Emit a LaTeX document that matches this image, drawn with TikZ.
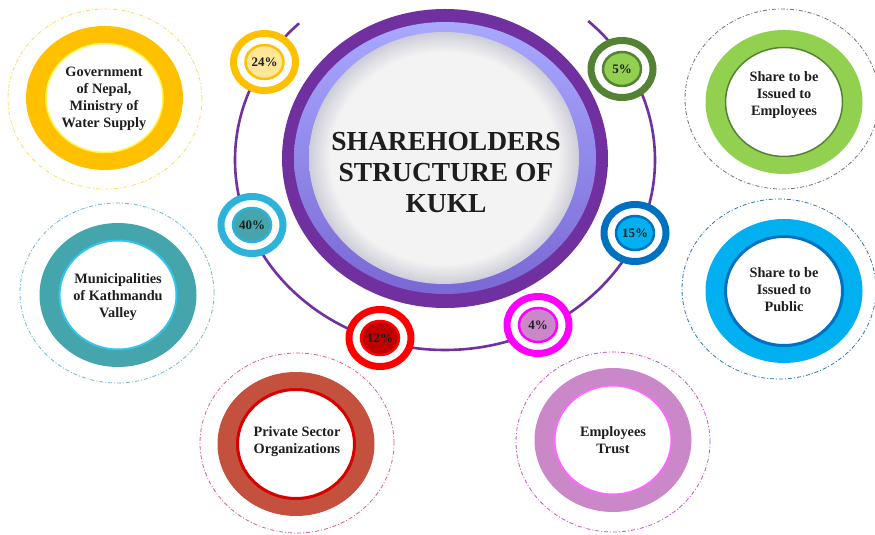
\documentclass[tikz,border=0pt]{standalone}
\usepackage{fontspec}
\setmainfont{Liberation Serif}
\definecolor{txt}{HTML}{1E1E1E}
\definecolor{purp}{HTML}{7030A0}
\definecolor{lavA}{HTML}{A8A8FF}
\definecolor{lavB}{HTML}{7A68D4}
\definecolor{greyA}{HTML}{F3F3F3}
\definecolor{greyB}{HTML}{CDCDD8}
\definecolor{gold}{HTML}{FFC000}
\definecolor{goldlt}{HTML}{FFE699}
\definecolor{goldln}{HTML}{FFD966}
\definecolor{teal}{HTML}{45A5AD}
\definecolor{cyanln}{HTML}{33C4EA}
\definecolor{skyring}{HTML}{2DB2DA}
\definecolor{brick}{HTML}{C4513E}
\definecolor{redA}{HTML}{FF0000}
\definecolor{redB}{HTML}{C00000}
\definecolor{pinkln}{HTML}{E0607A}
\definecolor{orchid}{HTML}{CA88C9}
\definecolor{magenta2}{HTML}{FF00FF}
\definecolor{magln}{HTML}{FF66FF}
\definecolor{magdash}{HTML}{C955C9}
\definecolor{lgreen}{HTML}{92D050}
\definecolor{dgreen}{HTML}{548235}
\definecolor{greydash}{HTML}{6F7A66}
\definecolor{sky}{HTML}{00B0F0}
\definecolor{dblue}{HTML}{0070C0}
\definecolor{bluedash}{HTML}{2E75B6}
\definecolor{lbluedash}{HTML}{6FB7D8}
\pgfdeclareradialshading{greyshade}{\pgfpoint{0bp}{0bp}}{color(0bp)=(greyA); color(21bp)=(greyA); color(25bp)=(greyB); color(50bp)=(greyB)}
\tikzset{
  dashring/.style={draw=#1, line width=0.8pt, dash pattern=on 4pt off 2pt on 1pt off 2pt},
  lbl/.style={font=\fontsize{14.3}{17}\selectfont\bfseries, align=center, text=txt},
  pct/.style={font=\fontsize{13}{14}\selectfont\bfseries, text=txt},
  orbit/.style={draw=purp, line width=2.6pt},
}
\newcommand\pctc[6]{%
  \draw[line width=7pt, draw=#3, fill=white] (#2) ellipse [x radius=31pt, y radius=28.5pt];
  \draw[line width=2.5pt, draw=#5, fill=#4] (#2) ellipse [x radius=19pt, y radius=17pt];
  \node[pct] (#1) at (#2) {#6};
}
\newcommand\bigc[9]{% #1 name, #2 dash centre, #3 dash colour, #4 ring centre, #5 ring colour, #6 inner border colour, #7 inner border width, #8 text pos, #9 text
  \draw[dashring=#3] (#2) ellipse [x radius=97pt, y radius=90pt];
  \fill[#5] (#4) ellipse [x radius=78.5pt, y radius=72pt];
  \draw[draw=#6, line width=#7, fill=white] (#4) ellipse [x radius=58.5pt, y radius=54.5pt];
  \node[lbl] (#1) at (#8) {#9};
}
\begin{document}
\begin{tikzpicture}[x=1pt,y=1pt]
\useasboundingbox (0,0) rectangle (875,535);
\fill[white] (0,0) rectangle (875,535);
% orbit
\draw[orbit] ([shift={(47:210pt and 190pt)}]445,375) arc [start angle=47, end angle=-226, x radius=210pt, y radius=190pt];
% central circle
\fill[purp] (445,376.5) ellipse [x radius=163pt, y radius=149.5pt];
\shade[top color=lavA, bottom color=lavB] (445,377) ellipse [x radius=151pt, y radius=136pt];
\shade[shading=greyshade] (444,377) ellipse [x radius=135pt, y radius=126pt];
\node[font=\fontsize{27.5}{31}\selectfont\bfseries, align=center, text=txt] (title) at (446,362) {SHAREHOLDERS\\STRUCTURE OF\\KUKL};
% percentage circles
\pctc{p24}{264.5,473}{gold}{goldlt}{gold}{24\%}
\pctc{p40}{252,310}{skyring}{teal}{skyring}{40\%}
\pctc{p12}{380,197}{redA}{redB}{redA}{12\%}
\pctc{p4}{538,210}{magenta2}{orchid}{magenta2}{4\%}
\pctc{p15}{635,302}{dblue}{sky}{dblue}{15\%}
\pctc{p5}{622,466}{dgreen}{lgreen}{dgreen}{5\%}
% big circles
\bigc{gov}{105,436}{goldln}{104.5,437}{gold}{yellow!70}{1.5pt}{104,436}{Government\\of Nepal,\\Ministry of\\Water Supply}
\bigc{muni}{117,242}{lbluedash}{118,240}{teal}{cyanln}{2pt}{118,238}{Municipalities\\of Kathmandu\\Valley}
\bigc{priv}{297,92}{pinkln}{296,91}{brick}{redA!85!black}{3pt}{297,93}{Private Sector\\Organizations}
\bigc{trust}{613,93}{magdash}{613,95}{orchid}{magln}{2pt}{613,95}{Employees\\Trust}
\bigc{shemp}{782,436}{greydash}{784,433}{lgreen}{dgreen}{1.5pt}{784,440}{Share to be\\Issued to\\Employees}
\bigc{pub}{779,246}{bluedash}{784,244}{sky}{dblue}{3pt}{784,245}{Share to be\\Issued to\\Public}
\end{tikzpicture}
\end{document}
